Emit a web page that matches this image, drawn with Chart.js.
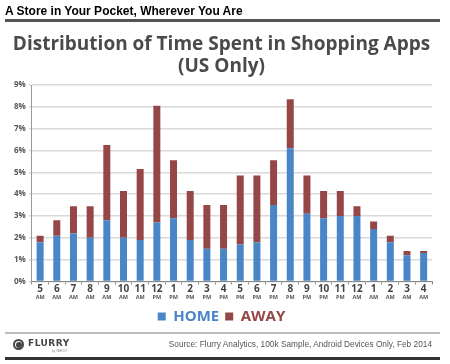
<!DOCTYPE html>
<html>
<head>
<meta charset="utf-8">
<script src="https://cdn.jsdelivr.net/npm/chart.js@4/dist/chart.umd.min.js"></script>
<style>
  html, body { margin: 0; padding: 0; background: #fff; }
  #wrap { position: relative; width: 450px; height: 364px; overflow: hidden; }
  #chart-box { position: absolute; left: 0; top: 0; width: 450px; height: 364px; }
  .abs { position: absolute; }
  #hdr { left: 5px; top: 4px; font: bold 12px "Liberation Sans", Arial, sans-serif; color: #000; white-space: nowrap; }
  #hdr-line { left: 5px; top: 19px; width: 435px; height: 3px; background: #555; }
  #ftr-line { left: 5px; top: 332px; width: 435px; height: 2px; background: #bdbdbd; }
  #ftr-bar { left: 5px; top: 357px; width: 435px; height: 3px; background: #333; }
  #logo-ring { left: 13px; top: 339px; width: 7px; height: 7px; border: 2.5px solid #444; border-radius: 50%; }
  #logo-dot { left: 16px; top: 342px; width: 6px; height: 6px; background: #444; border-radius: 50%; }
  #logo-text { left: 28px; top: 338px; font: bold 9px "DejaVu Sans", sans-serif; color: #444; letter-spacing: 0.5px; }
  #logo-sub { left: 52px; top: 349px; font: 3px "Liberation Sans", Arial, sans-serif; color: #889; }
  #src { right: 18px; top: 339px; font: 8.3px "Liberation Sans", Arial, sans-serif; color: #555; white-space: nowrap; }
</style>
</head>
<body>
<div id="wrap">
  <div id="chart-box"><canvas id="c"></canvas></div>
  <div class="abs" id="hdr">A Store in Your Pocket, Wherever You Are</div>
  <div class="abs" id="hdr-line"></div>
  <div class="abs" id="ftr-line"></div>
  <div class="abs" id="logo-ring"></div>
  <div class="abs" id="logo-dot"></div>
  <div class="abs" id="logo-text">FLURRY</div>
  <div class="abs" id="logo-sub">by YAHOO!</div>
  <div class="abs" id="src">Source: Flurry Analytics, 100k Sample, Android Devices Only, Feb 2014</div>
  <div class="abs" id="ftr-bar"></div>
</div>
<script>
const hours   = ['5','6','7','8','9','10','11','12','1','2','3','4','5','6','7','8','9','10','11','12','1','2','3','4'];
const periods = ['AM','AM','AM','AM','AM','AM','AM','PM','PM','PM','PM','PM','PM','PM','PM','PM','PM','PM','PM','AM','AM','AM','AM','AM'];
const home = [1.8,2.1,2.2,2.0,2.8,2.0,1.9,2.7,2.9,1.9,1.5,1.5,1.7,1.8,3.5,6.1,3.1,2.9,3.0,3.0,2.4,1.8,1.2,1.3];
const away = [0.3,0.7,1.25,1.45,3.45,2.15,3.25,5.35,2.65,2.25,2.0,2.0,3.15,3.05,2.05,2.25,1.75,1.25,1.15,0.45,0.35,0.3,0.2,0.1];
const yTicks = [0,1,2,3,4,5,6,7,8,9];

const BLUE = '#4a86c6';
const RED = '#954646';
const FONT = '"Open Sans", Lato, sans-serif';

new Chart(document.getElementById('c'), {
  type: 'bar',
  data: {
    labels: hours,
    datasets: [
      { label: 'HOME', data: home, backgroundColor: BLUE, xAxisID: 'x' },
      { label: 'AWAY', data: away, backgroundColor: RED, xAxisID: 'x' }
    ]
  },
  options: {
    responsive: true,
    maintainAspectRatio: false,
    animation: false,
    layout: { padding: { left: 11, right: 18, top: 0, bottom: 30 } },
    datasets: { bar: { categoryPercentage: 1, barPercentage: 0.42 } },
    plugins: {
      tooltip: { enabled: false },
      title: {
        display: true,
        text: 'Distribution of Time Spent in Shopping Apps',
        color: '#4a4a4a',
        font: { family: FONT, size: 19, weight: 'bold', lineHeight: 1.0 },
        padding: { top: 35, bottom: 3 }
      },
      subtitle: {
        display: true,
        text: '(US Only)',
        color: '#4a4a4a',
        font: { family: FONT, size: 19, weight: 'bold', lineHeight: 1.0 },
        padding: { top: 0, bottom: 9 }
      },
      legend: {
        position: 'bottom',
        labels: {
          boxWidth: 8, boxHeight: 8, padding: 6,
          font: { family: FONT, size: 15, weight: 'bold' },
          generateLabels(chart) {
            return chart.data.datasets.map((ds, i) => ({
              text: ds.label,
              fillStyle: ds.backgroundColor,
              strokeStyle: ds.backgroundColor,
              lineWidth: 0,
              fontColor: ds.backgroundColor,
              datasetIndex: i,
              hidden: false
            }));
          }
        }
      }
    },
    scales: {
      x: {
        stacked: true,
        position: 'bottom',
        offset: true,
        grid: { display: true, drawOnChartArea: false, offset: true, tickLength: 3, color: '#888', lineWidth: 1 },
        border: { display: true, color: '#888', width: 1 },
        ticks: { color: '#444', padding: 0, maxRotation: 0, autoSkip: false, font: { family: FONT, size: 10, weight: 'bold', lineHeight: 0.9 } }
      },
      x2: {
        type: 'category',
        labels: periods,
        position: 'bottom',
        offset: true,
        grid: { display: false, drawTicks: false, tickLength: 0 },
        border: { display: false },
        ticks: { color: '#555', padding: 1, maxRotation: 0, autoSkip: false, font: { family: FONT, size: 5.5, weight: 'bold', lineHeight: 1.0 } },
        afterFit(axis) { axis.height += 2; }
      },
      y: {
        stacked: true,
        min: 0, max: 9,
        afterBuildTicks(axis) { axis.ticks = yTicks.map(v => ({ value: v })); },
        grid: { color: '#d9d9d9', lineWidth: 1.5, tickLength: 3 },
        border: { display: true, color: '#999', width: 1 },
        ticks: { color: '#555', padding: 3, font: { family: FONT, size: 8, weight: 'bold' }, callback: v => v + '%' }
      }
    }
  }
});
</script>
</body>
</html>
